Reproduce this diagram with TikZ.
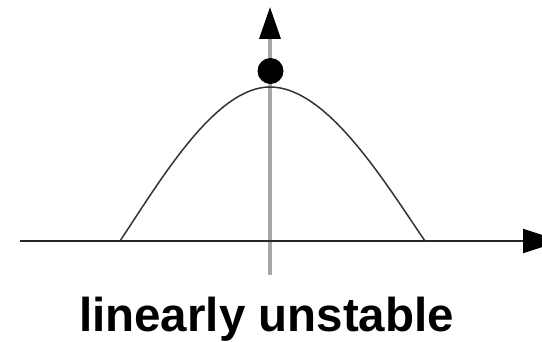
\documentclass[tikz,border=0pt]{standalone}
\usepackage{fontspec}
\setmainfont{Liberation Sans}
\usetikzlibrary{arrows.meta}
\begin{document}
\begin{tikzpicture}[x=1pt,y=-1pt,
  axisline/.style={line width=2pt,draw=black!85,-{Triangle[length=38pt,width=24pt,fill=black,color=black]}},
  vaxis/.style={line width=3.5pt,draw=black!35,-{Triangle[length=32pt,width=21pt,fill=black,color=black]}},
  curveline/.style={line width=1.5pt,draw=black!80},
  ballstyle/.style={circle,fill=black,inner sep=0pt,minimum size=26pt},
  labelstyle/.style={font=\fontsize{47.5}{56}\selectfont\bfseries,inner sep=0pt}]
\useasboundingbox (0,0) rectangle (542,342);
\coordinate (xs) at (20,241);
\coordinate (xe) at (561,241);
\coordinate (ys) at (270,275);
\coordinate (ye) at (270,7);
\coordinate (lf) at (120,241);
\coordinate (pk) at (270,87);
\coordinate (rf) at (425,241);
\draw[vaxis] (ys) -- (ye);
\draw[axisline] (xs) -- (xe);
\draw[curveline] (lf) .. controls (160,181) and (215,87) .. (pk)
  .. controls (327,87) and (384,181) .. (rf);
\node[ballstyle] (ball) at (270.5,71) {};
\node[labelstyle,anchor=base] (label) at (266.5,332) {linearly unstable};
\end{tikzpicture}
\end{document}
